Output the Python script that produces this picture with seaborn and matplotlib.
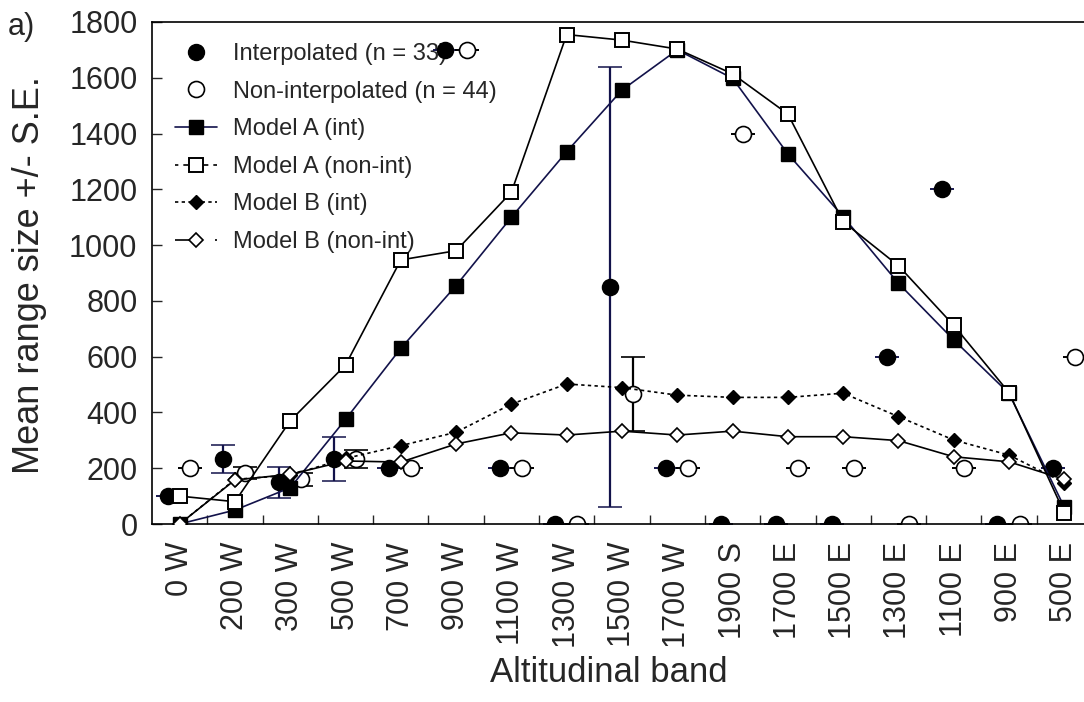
import numpy as np
import pandas as pd
import matplotlib
matplotlib.use("Agg")
import matplotlib.pyplot as plt
from matplotlib.lines import Line2D
import seaborn as sns

# Altitudinal bands along the transect (west slope -> summit -> east slope)
bands = ["0 W", "200 W", "300 W", "500 W", "700 W", "900 W", "1100 W", "1300 W",
         "1500 W", "1700 W", "1900 S", "1700 E", "1500 E", "1300 E", "1100 E",
         "900 E", "500 E"]

# Observed mean range sizes and standard errors
interp_mean = [100, 233, 150, 233, 200, 1700, 200, 0, 850, 200, 0, 0, 0, 600, 1200, 0, 200]
interp_se = [0, 50, 55, 80, 0, 0, 0, 0, 790, 0, 0, 0, 0, 0, 0, 0, 0]
noninterp_mean = [200, 183, 160, 233, 200, 1700, 200, 0, 465, 200, 1400, 200, 200, 0, 200, 0, 600]
noninterp_se = [0, 20, 22, 33, 0, 0, 0, 0, 133, 0, 0, 0, 0, 0, 0, 0, 0]

# Null-model predictions
model_a_int = [0, 50, 130, 375, 630, 855, 1100, 1335, 1556, 1700, 1598, 1327, 1102, 863, 660, 468, 60]
model_a_nonint = [100, 80, 370, 570, 947, 980, 1190, 1755, 1735, 1703, 1614, 1470, 1084, 926, 712, 471, 40]
model_b_int = [0, 160, 175, 235, 281, 329, 430, 502, 489, 462, 454, 454, 469, 385, 301, 247, 148]
model_b_nonint = [0, 158, 178, 226, 222, 287, 327, 319, 333, 319, 333, 313, 313, 299, 241, 223, 160]

sns.set_theme(style="ticks")
plt.rcParams["font.family"] = ["Liberation Sans", "DejaVu Sans"]

NAVY = "#12124a"
pos = np.arange(len(bands))

fig = plt.figure(figsize=(10.84, 7.02), dpi=100)
ax = fig.add_axes([152 / 1084, 178 / 702, 940 / 1084, 502 / 702])

# Observed points with error bars (offset left / right inside each band)
ax.errorbar(pos - 0.21, interp_mean, yerr=interp_se, fmt="o", ms=11.5,
            mfc="black", mec="black", mew=1.1, ecolor=NAVY, elinewidth=1.6,
            capsize=8.3, capthick=1.6, zorder=2)
ax.errorbar(pos + 0.19, noninterp_mean, yerr=noninterp_se, fmt="o", ms=11.5,
            mfc="white", mec="black", mew=1.2, ecolor="black", elinewidth=1.6,
            capsize=8.3, capthick=1.6, zorder=2)

df = pd.DataFrame({"pos": pos, "a_int": model_a_int, "a_non": model_a_nonint,
                   "b_int": model_b_int, "b_non": model_b_nonint})

sns.lineplot(data=df, x="pos", y="a_int", ax=ax, color=NAVY, lw=1.2, marker="s",
             ms=10.5, mfc="black", mec="black", mew=1.0, estimator=None, zorder=3)
sns.lineplot(data=df, x="pos", y="a_non", ax=ax, color="black", lw=1.2, marker="s",
             ms=10.5, mfc="white", mec="black", mew=1.4, estimator=None, zorder=3)
sns.lineplot(data=df, x="pos", y="b_int", ax=ax, color="black", lw=1.2, ls=(0, (2, 2)),
             marker="D", ms=7, mfc="black", mec="black", mew=1.0, estimator=None, zorder=4)
sns.lineplot(data=df, x="pos", y="b_non", ax=ax, color="black", lw=1.2, marker="D",
             ms=7, mfc="white", mec="black", mew=1.2, estimator=None, zorder=4)

ax.set_xlim(-0.5, len(bands) - 0.5)
ax.set_ylim(0, 1800)
ax.set_yticks(np.arange(0, 1801, 200))

# Band boundaries carry the tick marks, band centres carry the labels
ax.set_xticks(np.arange(0.5, len(bands) - 0.5, 1.0))
ax.set_xticklabels([])
ax.set_xticks(pos, minor=True)
ax.set_xticklabels(bands, minor=True, rotation=90, ha="center", va="top")
ax.tick_params(axis="x", which="major", direction="in", length=6.5, width=1.0)
ax.tick_params(axis="x", which="minor", length=0, pad=13, labelsize=22)
ax.tick_params(axis="y", direction="in", length=7, width=1.0, pad=10.5, labelsize=22)

for sp in ax.spines.values():
    sp.set_linewidth(1.2)
    sp.set_color("black")

ax.set_xlabel("Altitudinal band", fontsize=25)
ax.xaxis.label.set_va("center")
ax.xaxis.set_label_coords((609 - 152) / 940, (524 - 672) / 502)
ax.set_ylabel("Mean range size +/- S.E.", fontsize=26)
ax.yaxis.label.set_va("center")
ax.yaxis.set_label_coords((30 - 152) / 940, 0.496)
ax.set_facecolor("white")

handles = [
    Line2D([], [], ls="none", marker="o", ms=11.5, mfc="black", mec="black"),
    Line2D([], [], ls="none", marker="o", ms=11.5, mfc="white", mec="black", mew=1.2),
    Line2D([], [], color=NAVY, lw=1.2, marker="s", ms=10.5, mfc="black", mec="black"),
    Line2D([], [], color="black", lw=1.2, ls=(1, (3, 3)), marker="s", ms=10.5,
           mfc="white", mec="black", mew=1.4),
    Line2D([], [], color="black", lw=1.2, ls=(0, (2, 2)), marker="D", ms=7,
           mfc="black", mec="black"),
    Line2D([], [], color="black", lw=1.2, ls=(0, (10, 14, 4, 20)), marker="D", ms=7,
           mfc="white", mec="black", mew=1.2),
]
labels = ["Interpolated (n = 33)", "Non-interpolated (n = 44)", "Model A (int)",
          "Model A (non-int)", "Model B (int)", "Model B (non-int)"]
leg = ax.legend(handles, labels, loc="upper left", bbox_to_anchor=(0.024, 0.958),
                frameon=False, fontsize=17, handlelength=1.8, handletextpad=0.68,
                labelspacing=0.66, borderaxespad=0, borderpad=0)
leg.set_zorder(1)

fig.text(8 / 1084, 1 - 35 / 702, "a)", fontsize=22, ha="left", va="baseline")

fig.savefig("out.png", dpi=100, facecolor="white")
